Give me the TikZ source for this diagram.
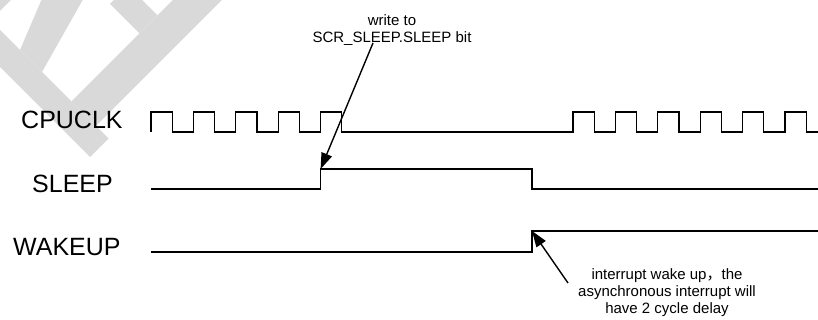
\documentclass[tikz,border=0pt]{standalone}
\usepackage{fontspec}
\setmainfont{Liberation Sans}
\newfontfamily\cjkfont{Noto Sans CJK SC}
\usetikzlibrary{arrows.meta}
\definecolor{wm}{RGB}{217,217,217}
\begin{document}
\begin{tikzpicture}[x=1pt,y=-1pt,
  clk/.style={line width=1.3pt},
  sig/.style={line width=1.6pt},
  lbl/.style={font=\fontsize{25}{30}\selectfont, inner sep=0pt, anchor=base west},
  ann/.style={font=\fontsize{15}{17}\selectfont, align=center, inner sep=0pt, anchor=north},
  callout/.style={line width=1.4pt, -{Triangle[length=16pt,width=11pt]}}]
\useasboundingbox (0,0) rectangle (818,320);
% watermark
\begin{scope}
\clip (0,0) rectangle (818,320);
\fill[wm] (-20,10) -- (-20,47) -- (90,157) -- (108.5,138.5) -- cycle;
\fill[wm] (50,-20) -- (94,-20) -- (42,72) -- (20,50) -- cycle;
\fill[wm] (110,4) -- (128,-14) -- (157.5,15.5) -- (139.5,33.5) -- cycle;
\fill[wm] (193,-20) -- (242,-20) -- (96,126) -- (71.5,101.5) -- cycle;
\fill[wm] (-10,-10) -- (21,-10) -- (0,11) -- cycle;
\end{scope}
% labels
\node[lbl] (lclk) at (21,129) {CPUCLK};
\node[lbl] (lsleep) at (32,193) {SLEEP};
\node[lbl] (lwake) at (13,255) {WAKEUP};
% clock
\draw[clk] (151,132) -- (151,112) -- (172.2,112) -- (172.2,132) -- (193.4,132) -- (193.4,112) -- (214.6,112) -- (214.6,132) -- (235.8,132) -- (235.8,112) -- (257,112) -- (257,132) -- (278.2,132) -- (278.2,112) -- (299.4,112) -- (299.4,132) -- (320.6,132) -- (320.6,112) -- (341.8,112) -- (341.8,132) -- (573,132) -- (573,112) -- (594.2,112) -- (594.2,132) -- (615.4,132) -- (615.4,112) -- (636.6,112) -- (636.6,132) -- (657.8,132) -- (657.8,112) -- (679,112) -- (679,132) -- (700.2,132) -- (700.2,112) -- (721.4,112) -- (721.4,132) -- (742.6,132) -- (742.6,112) -- (763.8,112) -- (763.8,132) -- (785,132) -- (785,112) -- (806.2,112) -- (806.2,132) -- (818,132);
% sleep
\coordinate (sleeprise) at (320.6,169);
\draw[sig] (151,189) -- (320.6,189) -- (sleeprise) -- (532,169) -- (532,189) -- (818,189);
% wakeup
\coordinate (wakerise) at (532,231);
\draw[sig] (151,252) -- (532,252) -- (wakerise) -- (818,231);
% annotations
\node[ann] (note1) at (392,14.3) {write to\\SCR\_SLEEP.SLEEP bit};
\coordinate (n1tail) at (373,43);
\draw[callout] (n1tail) -- (sleeprise);
\node[ann] (note2) at (667,268) {interrupt wake up{\cjkfont ，}the\\asynchronous interrupt will\\have 2 cycle delay};
\coordinate (n2tail) at (568,283);
\draw[callout] (n2tail) -- (wakerise);
\end{tikzpicture}
\end{document}
